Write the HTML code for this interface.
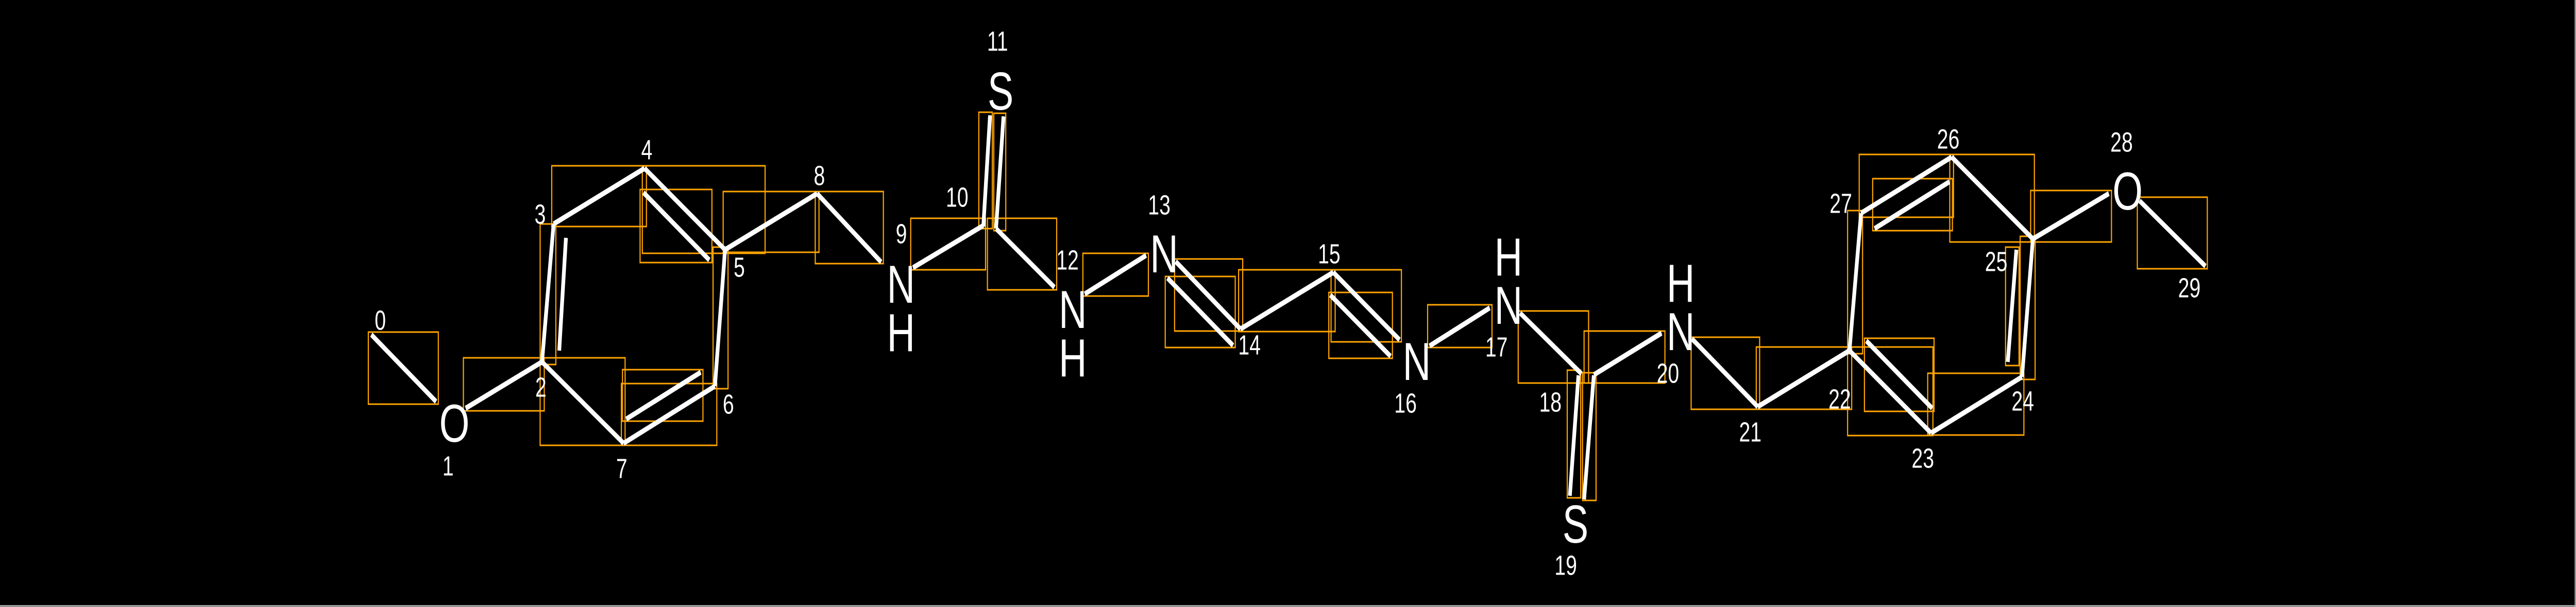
<!DOCTYPE html>
<html><head><meta charset="utf-8"><style>
html,body{margin:0;padding:0;background:#000;width:100%;height:100%;overflow:hidden;}
svg{display:block;width:100vw;height:100vh;}
text{font-family:"Liberation Sans","DejaVu Sans",sans-serif;fill:#fff;}
.b line{stroke:#fff;stroke-width:10;}
.o rect{fill:none;stroke:#ffa500;stroke-width:3;}
</style></head><body>
<svg viewBox="0 0 6882 1179" preserveAspectRatio="none" xmlns="http://www.w3.org/2000/svg">
<rect width="6882" height="1179" fill="#000"/>
<line x1="6880" y1="0" x2="6880" y2="1179" stroke="#bbb" stroke-width="3"/>
<line x1="0" y1="1177" x2="6882" y2="1177" stroke="#bbb" stroke-width="3"/>
<g class="o">
<rect x="984" y="645" width="187" height="140"/>
<rect x="1238" y="695" width="216" height="103"/>
<rect x="1443" y="435" width="42" height="273"/>
<rect x="1474" y="322" width="253" height="118"/>
<rect x="1716" y="322" width="328" height="170"/>
<rect x="1710" y="368" width="192" height="142"/>
<rect x="1905" y="480" width="40" height="275"/>
<rect x="1660" y="745" width="255" height="120"/>
<rect x="1663" y="718" width="215" height="100"/>
<rect x="1443" y="695" width="227" height="170"/>
<rect x="1932" y="372" width="256" height="118"/>
<rect x="2178" y="372" width="182" height="140"/>
<rect x="2433" y="424" width="200" height="100"/>
<rect x="2615" y="218" width="36" height="226"/>
<rect x="2655" y="220" width="32" height="228"/>
<rect x="2638" y="424" width="185" height="139"/>
<rect x="2893" y="492" width="175" height="83"/>
<rect x="3138" y="503" width="182" height="140"/>
<rect x="3113" y="537" width="187" height="138"/>
<rect x="3309" y="524" width="258" height="120"/>
<rect x="3556" y="524" width="188" height="140"/>
<rect x="3550" y="568" width="170" height="128"/>
<rect x="3814" y="592" width="172" height="83"/>
<rect x="4056" y="604" width="188" height="140"/>
<rect x="4187" y="719" width="36" height="248"/>
<rect x="4228" y="724" width="36" height="248"/>
<rect x="4232" y="643" width="216" height="101"/>
<rect x="4518" y="655" width="183" height="140"/>
<rect x="4692" y="674" width="255" height="121"/>
<rect x="4936" y="674" width="228" height="172"/>
<rect x="4981" y="657" width="186" height="142"/>
<rect x="4936" y="409" width="40" height="278"/>
<rect x="4967" y="300" width="252" height="122"/>
<rect x="5003" y="347" width="213" height="101"/>
<rect x="5209" y="300" width="226" height="170"/>
<rect x="5397" y="459" width="40" height="278"/>
<rect x="5358" y="480" width="36" height="230"/>
<rect x="5150" y="725" width="257" height="120"/>
<rect x="5425" y="370" width="216" height="100"/>
<rect x="5710" y="383" width="187" height="139"/>
</g>
<g class="b">
<line x1="992" y1="650" x2="1165" y2="780"/>
<line x1="1244" y1="793" x2="1448" y2="703"/>
<line x1="1448" y1="703" x2="1479" y2="435"/>
<line x1="1512" y1="462" x2="1494" y2="681"/>
<line x1="1479" y1="435" x2="1722" y2="327"/>
<line x1="1722" y1="327" x2="1937" y2="485"/>
<line x1="1719" y1="374" x2="1895" y2="505"/>
<line x1="1937" y1="485" x2="1910" y2="750"/>
<line x1="1910" y1="750" x2="1666" y2="861"/>
<line x1="1673" y1="814" x2="1872" y2="723"/>
<line x1="1666" y1="861" x2="1448" y2="703"/>
<line x1="1937" y1="485" x2="2183" y2="376"/>
<line x1="2183" y1="376" x2="2354" y2="509"/>
<line x1="2439" y1="520" x2="2627" y2="438"/>
<line x1="2627" y1="440" x2="2645" y2="224"/>
<line x1="2661" y1="444" x2="2681" y2="226"/>
<line x1="2661" y1="444" x2="2817" y2="558"/>
<line x1="2898" y1="571" x2="3062" y2="496"/>
<line x1="3141" y1="508" x2="3314" y2="639"/>
<line x1="3119" y1="540" x2="3294" y2="671"/>
<line x1="3314" y1="639" x2="3562" y2="529"/>
<line x1="3562" y1="529" x2="3739" y2="660"/>
<line x1="3554" y1="573" x2="3715" y2="692"/>
<line x1="3819" y1="672" x2="3980" y2="598"/>
<line x1="4061" y1="608" x2="4225" y2="726"/>
<line x1="4217" y1="729" x2="4194" y2="963"/>
<line x1="4258" y1="729" x2="4232" y2="970"/>
<line x1="4258" y1="728" x2="4439" y2="647"/>
<line x1="4520" y1="658" x2="4696" y2="790"/>
<line x1="4696" y1="790" x2="4941" y2="681"/>
<line x1="4941" y1="681" x2="5159" y2="841"/>
<line x1="4986" y1="662" x2="5162" y2="793"/>
<line x1="4941" y1="681" x2="4972" y2="414"/>
<line x1="4972" y1="414" x2="5214" y2="305"/>
<line x1="5008" y1="444" x2="5208" y2="353"/>
<line x1="5214" y1="305" x2="5431" y2="464"/>
<line x1="5431" y1="464" x2="5402" y2="732"/>
<line x1="5364" y1="703" x2="5387" y2="485"/>
<line x1="5402" y1="732" x2="5159" y2="841"/>
<line x1="5431" y1="464" x2="5634" y2="376"/>
<line x1="5716" y1="390" x2="5892" y2="517"/>
</g>
<g font-size="104" text-anchor="middle" dominant-baseline="central">
<text x="1214" y="823">O</text>
<text x="2407" y="553">N</text>
<text x="2407" y="647">H</text>
<text x="2673" y="178">S</text>
<text x="2866" y="602">N</text>
<text x="2866" y="696">H</text>
<text x="3110" y="494">N</text>
<text x="3785" y="703">N</text>
<text x="4030" y="594">N</text>
<text x="4030" y="500">H</text>
<text x="4209" y="1019">S</text>
<text x="4490" y="645">N</text>
<text x="4490" y="551">H</text>
<text x="5684" y="372">O</text>
</g>
<g font-size="54" text-anchor="middle" dominant-baseline="central">
<text x="1016" y="623">0</text>
<text x="1197" y="906">1</text>
<text x="1445" y="753">2</text>
<text x="1443" y="417">3</text>
<text x="1728" y="292">4</text>
<text x="1975" y="520">5</text>
<text x="1946" y="786">6</text>
<text x="1661" y="911">7</text>
<text x="2189" y="342">8</text>
<text x="2408" y="455">9</text>
<text x="2557" y="384">10</text>
<text x="2665" y="81">11</text>
<text x="2852" y="506">12</text>
<text x="3097" y="399">13</text>
<text x="3338" y="671">14</text>
<text x="3551" y="494">15</text>
<text x="3755" y="784">16</text>
<text x="3998" y="675">17</text>
<text x="4142" y="782">18</text>
<text x="4183" y="1099">19</text>
<text x="4456" y="726">20</text>
<text x="4676" y="840">21</text>
<text x="4915" y="776">22</text>
<text x="5137" y="891">23</text>
<text x="5404" y="780">24</text>
<text x="5333" y="509">25</text>
<text x="5205" y="271">26</text>
<text x="4918" y="396">27</text>
<text x="5668" y="277">28</text>
<text x="5849" y="560">29</text>
</g>
</svg>
</body></html>
